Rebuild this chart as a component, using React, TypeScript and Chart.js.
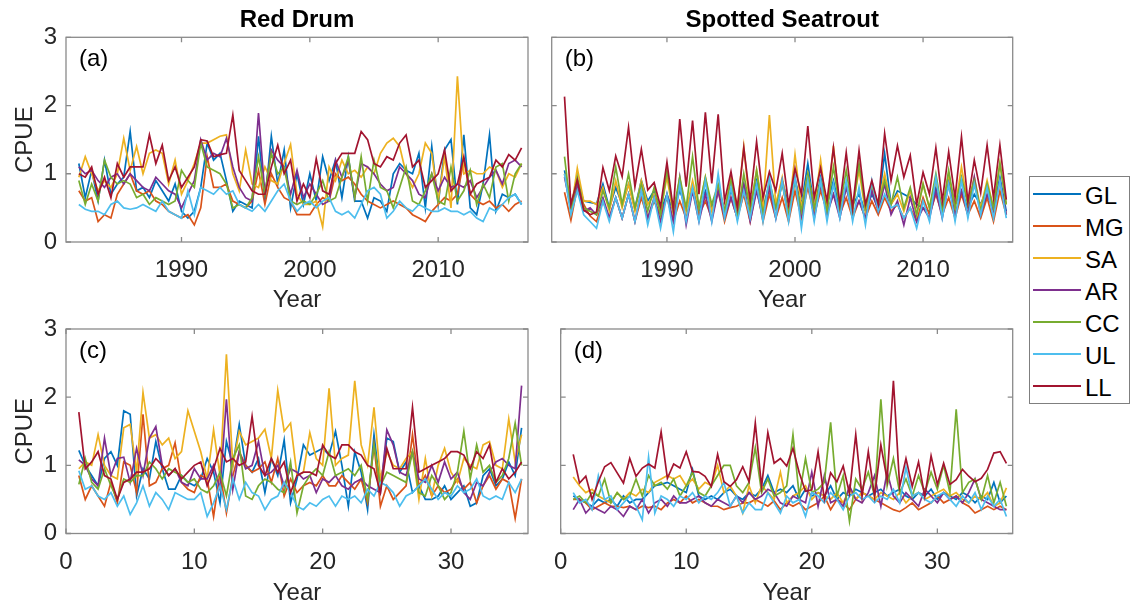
import React, { useEffect, useRef } from 'react';
import { Chart, registerables } from 'chart.js';

Chart.register(...registerables);

const FONT = '"Liberation Sans", Arial, Helvetica, sans-serif';
const TEXT = '#262626';
const AXIS = '#8a8a8a';

const seriesNames = ['GL', 'MG', 'SA', 'AR', 'CC', 'UL', 'LL'];
const seriesColors = ['#0072BD', '#D95319', '#EDB120', '#7E2F8E', '#77AC30', '#4DBEEE', '#A2142F'];

const yearTicks = [1990, 2000, 2010];
const runTicks = [0, 10, 20, 30];
const cpueTicks = [0, 1, 2, 3];

const halfYears = [
  1982, 1982.5, 1983, 1983.5, 1984, 1984.5, 1985, 1985.5, 1986, 1986.5,
  1987, 1987.5, 1988, 1988.5, 1989, 1989.5, 1990, 1990.5, 1991, 1991.5,
  1992, 1992.5, 1993, 1993.5, 1994, 1994.5, 1995, 1995.5, 1996, 1996.5,
  1997, 1997.5, 1998, 1998.5, 1999, 1999.5, 2000, 2000.5, 2001, 2001.5,
  2002, 2002.5, 2003, 2003.5, 2004, 2004.5, 2005, 2005.5, 2006, 2006.5,
  2007, 2007.5, 2008, 2008.5, 2009, 2009.5, 2010, 2010.5, 2011, 2011.5,
  2012, 2012.5, 2013, 2013.5, 2014, 2014.5, 2015, 2015.5, 2016, 2016.5,
];

const halfRuns = [
  1, 1.5, 2, 2.5, 3, 3.5, 4, 4.5, 5, 5.5,
  6, 6.5, 7, 7.5, 8, 8.5, 9, 9.5, 10, 10.5,
  11, 11.5, 12, 12.5, 13, 13.5, 14, 14.5, 15, 15.5,
  16, 16.5, 17, 17.5, 18, 18.5, 19, 19.5, 20, 20.5,
  21, 21.5, 22, 22.5, 23, 23.5, 24, 24.5, 25, 25.5,
  26, 26.5, 27, 27.5, 28, 28.5, 29, 29.5, 30, 30.5,
  31, 31.5, 32, 32.5, 33, 33.5, 34, 34.5, 35, 35.5,
];

// ---------- (a) Red Drum, by year ----------
const aGL = [
  1.15, 0.65, 1.05, 0.6, 1.2, 0.7, 0.85, 0.95, 1.62, 0.75,
  0.8, 0.65, 0.9, 0.75, 0.6, 0.85, 0.45, 0.35, 0.45, 0.8,
  1.45, 1.2, 1.3, 0.9, 0.45, 0.6, 0.55, 0.5, 1.55, 0.6,
  1.55, 0.85, 1.35, 0.5, 1.0, 0.55, 1.0, 0.6, 1.25, 0.9,
  1.2, 0.65, 1.25, 0.6, 0.6, 0.35, 0.65, 0.6, 0.45, 1.0,
  1.15, 1.05, 1.0, 1.3, 0.5, 1.4, 0.55, 1.35, 1.5, 0.55,
  1.57, 0.5, 0.4, 0.85, 1.57, 0.45, 0.7, 0.65, 0.7, 0.55,
];
const aMG = [
  0.75, 0.6, 0.65, 0.3, 0.4, 0.35, 0.7, 0.85, 1.0, 0.75,
  0.7, 0.75, 0.6, 0.55, 0.45, 0.4, 0.35, 0.4, 0.25, 0.5,
  1.25, 0.8, 0.8, 0.85, 0.6, 0.55, 0.5, 0.6, 1.05, 0.55,
  1.0, 0.8, 0.65, 0.6, 0.4, 0.4, 0.4, 0.55, 0.65, 0.6,
  1.0, 0.9, 0.95, 0.85, 0.7, 0.6, 0.55, 0.5, 0.55, 0.6,
  0.55, 0.5, 0.4, 0.35, 0.3, 0.45, 0.55, 0.65, 0.6, 0.7,
  1.2, 0.7, 0.6, 0.55, 0.6, 0.5, 0.55, 0.45, 0.55, 0.6,
];
const aSA = [
  0.95, 1.25, 1.0, 0.75, 0.9, 0.8, 1.0, 1.52, 1.05, 1.4,
  1.0, 1.3, 1.35, 1.3, 0.85, 1.2, 0.7, 0.9, 1.15, 1.45,
  1.45, 1.5, 1.55, 1.57, 1.0, 0.75, 1.35, 0.85, 0.8, 1.1,
  0.9, 0.85, 1.15, 1.43, 0.7, 0.55, 0.55, 0.6, 0.22, 1.1,
  0.9, 1.2, 1.0, 1.05, 0.95, 1.1, 1.0, 1.3, 1.45, 1.52,
  1.4, 1.0, 0.8, 1.0, 1.45, 1.3, 0.6, 1.25, 0.5, 2.43,
  1.0, 1.05, 1.0, 1.0, 1.1, 1.05, 0.8, 1.0, 0.95, 1.15,
];
const aAR = [
  1.1, 1.0, 1.05, 0.9, 0.8, 0.95, 1.0, 0.85, 1.0, 0.9,
  0.8, 0.75, 0.95, 0.85, 0.75, 0.7, 0.5, 0.7, 0.9, 1.5,
  1.2, 1.3, 1.25, 1.52, 1.1, 0.8, 0.65, 0.6, 1.89, 0.7,
  1.35, 1.2, 1.1, 0.7, 1.05, 0.65, 0.85, 0.7, 0.55, 0.6,
  1.2, 0.95, 1.2, 0.65, 1.15, 1.1, 1.0, 0.85, 0.75, 0.8,
  1.1, 1.0, 0.9, 0.7, 0.65, 1.0, 0.75, 0.95, 0.8, 0.85,
  0.8, 0.9, 0.65, 0.8, 0.95, 1.05, 0.85, 1.15, 1.2, 1.1,
];
const aCC = [
  0.9, 0.55, 0.85, 0.6, 1.2, 0.95, 0.85, 0.9, 0.85, 0.65,
  0.7, 0.55, 0.65, 0.6, 0.55, 0.6, 1.05, 0.9, 0.8, 1.45,
  1.1, 1.05, 1.0, 0.85, 0.5, 0.55, 0.5, 0.65, 1.25, 0.7,
  1.3, 1.0, 1.1, 0.6, 0.55, 0.6, 0.55, 0.7, 0.9, 0.6,
  0.65, 0.95, 1.25, 0.65, 1.25, 0.6, 1.2, 0.8, 0.75, 0.5,
  0.8, 1.1, 0.6, 0.55, 0.75, 1.0, 0.6, 0.55, 1.1, 0.6,
  0.75, 1.05, 0.55, 0.85, 0.65, 1.1, 1.15, 0.6, 1.0, 1.15,
];
const aUL = [
  0.55, 0.48, 0.45, 0.45, 0.4, 0.55, 0.6, 0.5, 0.48, 0.5,
  0.55, 0.5, 0.45, 0.6, 0.45, 0.4, 0.35, 0.75, 0.4, 0.8,
  0.75, 0.7, 0.8, 0.7, 0.75, 0.55, 0.5, 0.45, 0.55, 0.45,
  0.6, 0.75, 0.85, 0.6, 0.45, 0.55, 0.6, 0.5, 0.6, 0.65,
  0.45, 0.4, 0.45, 0.35, 0.55, 0.75, 0.8, 0.7, 0.35, 0.45,
  0.6, 0.5, 0.45, 0.55, 0.5, 0.45, 0.45, 0.5, 0.45, 0.45,
  0.4, 0.45, 0.35, 0.3, 0.5, 0.45, 0.55, 0.65, 0.7, 0.55,
];
const aLL = [
  1.0, 0.95, 1.1, 0.7, 0.95, 0.65, 1.15, 0.95, 1.1, 1.1,
  1.1, 1.57, 1.15, 1.42, 0.9, 1.1, 0.8, 0.95, 1.1, 1.5,
  1.48, 1.25, 1.28, 1.3, 1.86, 1.05, 0.9, 0.75, 0.7, 0.7,
  1.1, 1.42, 1.0, 1.2, 0.6, 0.85, 0.65, 1.22, 0.75, 0.7,
  1.15, 1.3, 1.3, 1.3, 1.62, 1.5, 1.15, 1.1, 1.25, 1.2,
  1.45, 1.57, 1.1, 1.2, 0.8, 0.9, 1.0, 1.35, 0.75, 0.85,
  1.25, 0.7, 0.85, 0.9, 0.95, 1.2, 1.1, 1.28, 1.2, 1.38,
];

// ---------- (b) Spotted Seatrout, by year ----------
const bGL = [
  1.05, 0.55, 0.9, 0.6, 0.58, 0.56, 0.85, 0.5, 0.8, 0.55,
  0.85, 0.5, 0.9, 0.6, 0.75, 0.45, 0.7, 0.45, 0.75, 0.5,
  0.8, 0.45, 0.75, 0.5, 0.8, 0.45, 0.75, 0.5, 0.85, 0.55,
  0.9, 0.5, 0.85, 0.5, 0.9, 0.55, 0.9, 0.55, 1.15, 0.5,
  0.95, 0.55, 0.9, 0.45, 0.8, 0.55, 0.7, 0.45, 0.7, 0.5,
  1.3, 0.55, 0.75, 0.7, 0.65, 0.55, 0.5, 0.45, 0.8, 0.5,
  0.9, 0.55, 0.75, 0.5, 0.7, 0.55, 0.8, 0.5, 0.95, 0.45,
];
const bMG = [
  0.73, 0.32, 0.8, 0.55, 0.38, 0.3, 0.6, 0.35, 0.65, 0.35,
  0.7, 0.3, 0.65, 0.35, 0.6, 0.4, 0.65, 0.3, 0.6, 0.35,
  0.75, 0.4, 0.6, 0.35, 0.75, 0.3, 0.65, 0.35, 0.7, 0.3,
  0.8, 0.3, 0.7, 0.35, 0.65, 0.3, 0.75, 0.35, 0.8, 0.4,
  0.75, 0.45, 0.7, 0.4, 0.65, 0.35, 0.6, 0.35, 0.6, 0.4,
  0.65, 0.45, 0.55, 0.35, 0.5, 0.3, 0.65, 0.4, 0.7, 0.4,
  0.65, 0.35, 0.7, 0.4, 0.6, 0.35, 0.65, 0.3, 0.75, 0.4,
];
const bSA = [
  1.0, 0.45, 1.08, 0.6, 0.6, 0.55, 0.8, 0.45, 0.9, 0.5,
  0.85, 0.45, 0.9, 0.55, 0.7, 0.45, 0.95, 0.4, 0.85, 0.45,
  0.9, 0.5, 0.95, 0.45, 0.8, 0.45, 0.95, 0.5, 1.4, 0.45,
  1.05, 0.5, 1.86, 0.55, 0.95, 0.4, 1.28, 0.5, 1.0, 0.5,
  1.2, 0.45, 1.41, 0.5, 0.85, 0.5, 1.05, 0.45, 0.8, 0.55,
  1.0, 0.55, 0.7, 0.45, 0.75, 0.4, 0.85, 0.5, 0.9, 0.45,
  1.0, 0.5, 1.1, 0.55, 0.95, 0.5, 0.9, 0.5, 1.15, 0.55,
];
const bAR = [
  0.95, 0.5, 0.85, 0.45, 0.5, 0.4, 0.65, 0.35, 0.65, 0.35,
  0.7, 0.3, 0.75, 0.35, 0.65, 0.3, 0.7, 0.3, 0.95, 0.25,
  0.75, 0.3, 0.7, 0.3, 0.75, 0.35, 0.65, 0.35, 0.85, 0.3,
  0.75, 0.35, 0.8, 0.35, 0.9, 0.35, 0.95, 0.4, 0.95, 0.35,
  0.85, 0.4, 0.7, 0.35, 0.8, 0.4, 0.6, 0.35, 0.75, 0.45,
  0.85, 0.4, 0.6, 0.25, 0.65, 0.3, 0.5, 0.35, 0.75, 0.35,
  0.85, 0.4, 0.75, 0.4, 0.95, 0.4, 0.7, 0.45, 0.9, 0.4,
];
const bCC = [
  1.25, 0.45, 0.95, 0.5, 0.45, 0.4, 0.75, 0.5, 1.1, 0.55,
  1.0, 0.5, 0.85, 0.45, 0.8, 0.4, 1.05, 0.45, 0.95, 0.5,
  1.25, 0.5, 0.95, 0.55, 0.85, 0.45, 0.9, 0.35, 1.0, 0.45,
  1.05, 0.4, 0.9, 0.5, 0.85, 0.4, 0.9, 0.45, 1.0, 0.5,
  0.9, 0.45, 1.1, 0.5, 1.05, 0.45, 1.15, 0.5, 0.85, 0.55,
  0.9, 0.55, 0.95, 0.5, 0.8, 0.4, 0.85, 0.5, 1.0, 0.45,
  1.05, 0.5, 0.95, 0.55, 0.9, 0.45, 0.85, 0.5, 1.15, 0.55,
];
const bUL = [
  1.0, 0.4, 0.75, 0.4, 0.3, 0.2, 0.6, 0.3, 0.65, 0.35,
  0.7, 0.3, 0.75, 0.25, 0.65, 0.2, 0.7, 0.15, 0.85, 0.3,
  0.8, 0.3, 0.9, 0.3, 1.0, 0.35, 0.8, 0.3, 0.75, 0.35,
  0.85, 0.3, 0.95, 0.35, 0.9, 0.3, 0.95, 0.2, 0.9, 0.3,
  0.9, 0.3, 0.85, 0.35, 0.9, 0.3, 0.8, 0.25, 0.9, 0.45,
  0.7, 0.5, 0.55, 0.35, 0.5, 0.2, 0.6, 0.3, 0.95, 0.35,
  0.85, 0.3, 0.9, 0.35, 0.85, 0.4, 0.8, 0.35, 0.9, 0.35,
];
const bLL = [
  2.13, 0.55, 0.91, 0.47, 0.4, 0.44, 1.09, 0.75, 1.26, 0.96,
  1.68, 0.81, 1.36, 0.76, 0.87, 0.52, 1.17, 0.47, 1.8, 0.81,
  1.78, 0.7, 1.9, 0.86, 1.87, 0.6, 1.03, 0.5, 1.38, 0.6,
  1.47, 0.65, 1.03, 0.75, 1.3, 0.55, 1.08, 0.7, 1.7, 0.65,
  1.08, 0.6, 1.38, 0.55, 1.31, 0.5, 1.34, 0.55, 0.9, 0.55,
  1.59, 0.9, 1.41, 0.95, 1.27, 0.55, 1.02, 0.7, 1.38, 0.6,
  1.32, 0.65, 1.54, 0.59, 1.2, 0.72, 1.42, 0.65, 1.42, 0.62,
];

// ---------- (c) Red Drum, by run year ----------
const cGL = [
  1.22, 1.0, 0.85, 0.7, 1.1, 1.2, 1.0, 1.8, 1.75, 0.55,
  0.95, 0.8, 1.35, 0.95, 0.65, 0.65, 0.85, 0.75, 0.7, 0.8,
  1.1, 0.9, 0.45, 1.35, 1.0, 1.6, 1.0, 0.9, 1.1, 0.6,
  1.1, 0.85, 1.37, 0.45, 0.8, 1.3, 1.15, 1.2, 1.25, 1.15,
  1.5, 1.0, 0.4, 1.2, 0.9, 0.35, 1.45, 0.65, 1.4, 1.35,
  0.9, 1.05, 0.6, 0.7, 0.5, 0.5, 0.55, 0.7, 0.5, 0.6,
  0.7, 0.4, 0.45, 0.85, 0.95, 0.7, 0.8, 1.05, 0.85, 1.55,
];
const cMG = [
  0.85, 0.5, 0.7, 0.55, 0.4, 0.75, 0.45, 1.05, 1.0, 0.6,
  1.75, 0.7, 0.75, 0.95, 1.0, 1.33, 0.75, 0.65, 0.6, 0.85,
  0.8, 0.25, 0.9, 0.3, 0.85, 1.2, 1.0, 0.9, 0.95, 1.05,
  0.75, 1.1, 0.55, 0.8, 0.6, 0.7, 0.75, 0.7, 0.85, 0.7,
  0.7, 0.85, 0.75, 0.65, 0.8, 0.45, 1.3, 0.4, 0.7, 0.5,
  0.6, 0.7, 1.45, 0.7, 0.85, 0.55, 0.7, 0.6, 0.65, 0.8,
  0.65, 0.75, 0.45, 0.7, 0.85, 0.65, 0.8, 0.75, 0.22, 0.8,
];
const cSA = [
  0.95, 1.05, 1.0, 1.45, 1.0, 0.85, 0.8, 1.55, 1.6, 0.9,
  2.07, 1.4, 1.45, 1.3, 1.4, 1.1, 1.2, 1.8, 1.5, 1.2,
  0.8, 1.52, 0.85, 2.63, 1.0, 1.5, 1.3, 1.35, 1.4, 1.53,
  1.1, 2.1, 1.5, 1.62, 0.85, 0.9, 1.48, 1.1, 1.0, 2.13,
  1.0, 1.1, 1.15, 2.24, 1.3, 1.0, 1.85, 0.8, 1.2, 1.0,
  0.95, 1.1, 1.2, 0.5, 1.1, 0.55, 1.0, 1.25, 0.9, 0.75,
  1.1, 1.0, 0.95, 1.3, 1.35, 1.0, 0.95, 1.68, 1.05, 1.45,
];
const cAR = [
  1.08, 1.0, 0.8, 0.7, 1.4, 0.85, 1.1, 1.12, 0.75, 1.25,
  0.85, 1.4, 1.57, 1.0, 0.85, 0.95, 0.75, 0.7, 0.95, 0.8,
  0.8, 1.0, 0.65, 1.97, 0.65, 1.2, 0.95, 1.0, 1.35, 0.85,
  0.9, 1.0, 0.7, 0.95, 0.9, 0.8, 0.85, 0.6, 0.8, 0.75,
  0.85, 0.7, 0.65, 0.75, 0.8, 0.7, 0.65, 0.6, 1.52, 1.3,
  0.9, 0.85, 1.2, 0.8, 0.75, 1.0, 0.75, 1.05, 0.8, 0.9,
  0.6, 0.5, 0.75, 0.7, 0.9, 1.05, 1.1, 1.0, 0.95, 2.17,
];
const cCC = [
  0.72, 1.1, 0.75, 0.65, 0.95, 0.7, 0.5, 0.8, 0.75, 0.85,
  0.85, 1.05, 0.95, 0.8, 0.95, 0.9, 0.85, 0.75, 0.8, 0.65,
  0.6, 0.7, 0.9, 0.55, 1.1, 1.3, 0.55, 0.5, 0.7, 0.8,
  0.75, 0.65, 0.6, 1.05, 0.3, 0.7, 0.85, 0.95, 0.85, 1.2,
  0.85, 0.9, 0.95, 0.85, 1.0, 0.5, 1.3, 0.7, 0.9, 0.85,
  0.8, 0.75, 1.2, 0.6, 0.55, 0.85, 0.7, 0.5, 0.6, 0.9,
  1.5, 0.8, 1.3, 0.9, 1.0, 0.75, 0.85, 1.1, 1.62, 1.0,
];
const cUL = [
  0.92, 0.65, 0.7, 0.55, 0.5, 0.6, 0.4, 0.55, 0.28, 0.45,
  0.7, 0.4, 0.6, 0.5, 0.35, 0.6, 0.55, 0.5, 0.5, 0.6,
  0.25, 0.45, 0.7, 0.35, 0.8, 0.5, 0.75, 0.6, 0.55, 0.35,
  0.5, 0.55, 0.75, 0.6, 0.4, 0.35, 0.45, 0.4, 0.5, 0.55,
  0.4, 0.55, 0.5, 0.55, 0.45, 0.65, 0.55, 0.75, 0.7, 0.6,
  0.4, 0.55, 0.6, 0.7, 0.8, 0.65, 0.5, 0.6, 0.55, 0.7,
  0.6, 0.65, 0.8, 0.55, 0.5, 0.55, 0.5, 0.75, 0.6, 0.8,
];
const cLL = [
  1.78, 0.95, 1.05, 1.2, 0.85, 0.8, 0.5, 0.75, 0.8, 0.9,
  0.9, 0.95, 1.1, 1.0, 0.85, 0.95, 0.8, 0.9, 1.0, 1.05,
  0.7, 0.95, 1.25, 1.05, 1.1, 1.0, 1.05, 1.72, 1.0, 0.85,
  1.1, 0.9, 1.05, 0.6, 0.85, 0.9, 0.9, 0.85, 1.3, 1.15,
  1.1, 1.3, 1.3, 1.2, 1.15, 1.0, 0.95, 0.6, 1.25, 0.95,
  0.95, 0.95, 1.85, 0.9, 0.95, 1.0, 1.05, 1.1, 1.2, 1.2,
  1.15, 0.95, 1.2, 1.1, 1.3, 0.75, 0.95, 0.8, 0.9, 1.05,
];

// ---------- (d) Spotted Seatrout, by run year ----------
const dGL = [
  0.55, 0.5, 0.45, 0.4, 0.5, 0.45, 0.5, 0.4, 0.55, 0.45,
  0.5, 0.5, 0.6, 0.7, 0.72, 0.75, 0.7, 0.65, 0.6, 0.94,
  0.55, 0.5, 0.55, 0.5, 0.6, 0.65, 0.55, 0.5, 0.6, 0.55,
  0.65, 0.85, 0.6, 0.65, 0.6, 0.7, 0.5, 0.65, 0.55, 0.6,
  0.55, 0.7, 0.5, 0.6, 0.55, 0.65, 0.6, 0.55, 0.6, 0.65,
  0.55, 0.6, 0.65, 0.55, 0.5, 0.6, 0.55, 0.65, 0.5, 0.6,
  0.55, 0.5, 0.6, 0.55, 0.45, 0.55, 0.5, 0.75, 0.45, 0.55,
];
const dMG = [
  0.5, 0.5, 0.45, 0.35, 0.4, 0.45, 0.4, 0.4, 0.38, 0.4,
  0.35, 0.4, 0.38, 0.4, 0.35, 0.45, 0.5, 0.45, 0.55, 0.45,
  0.5, 0.45, 0.4, 0.4, 0.35, 0.38, 0.4, 0.45, 0.45, 0.5,
  0.45, 0.4, 0.48, 0.35, 0.45, 0.4, 0.45, 0.35, 0.4, 0.45,
  0.55, 0.35, 0.5, 0.45, 0.35, 0.5, 0.6, 0.55, 0.5, 0.45,
  0.4, 0.35, 0.32, 0.38, 0.45, 0.35, 0.4, 0.45, 0.55, 0.45,
  0.5, 0.55, 0.45, 0.4, 0.3, 0.35, 0.4, 0.35, 0.4, 0.35,
];
const dSA = [
  0.83, 0.7, 0.6, 0.65, 0.55, 0.5, 0.45, 0.6, 0.5, 0.6,
  0.55, 0.65, 0.6, 0.75, 0.8, 0.85, 0.8, 0.85, 0.7, 0.8,
  0.65, 0.75, 0.7, 1.0, 0.6, 0.7, 0.55, 0.3, 0.7, 0.45,
  0.7, 0.6, 0.5, 0.9, 0.45, 0.55, 0.6, 0.7, 0.5, 0.6,
  0.55, 0.5, 0.6, 0.45, 0.65, 0.5, 0.6, 0.55, 0.5, 0.6,
  0.55, 0.5, 0.6, 0.45, 0.55, 0.6, 0.5, 0.55, 0.6, 0.65,
  0.55, 0.6, 0.5, 0.45, 0.55, 0.5, 0.6, 0.4, 0.45, 0.67,
];
const dAR = [
  0.35, 0.5, 0.3, 0.4, 0.35, 0.3, 0.4, 0.35, 0.25, 0.4,
  0.35, 0.5, 0.3, 0.45, 0.5, 0.4, 0.55, 0.45, 0.45, 0.5,
  0.55, 0.45, 0.4, 0.5, 0.45, 0.4, 0.55, 0.45, 0.6, 0.5,
  0.55, 0.65, 0.6, 0.45, 0.4, 0.55, 0.5, 0.45, 0.9, 0.4,
  0.85, 0.45, 0.5, 0.4, 0.7, 0.5, 0.45, 0.6, 0.85, 0.4,
  0.9, 0.55, 0.45, 0.6, 0.5, 0.4, 0.65, 0.55, 0.45, 0.6,
  0.5, 0.55, 0.45, 0.6, 0.8, 0.5, 0.45, 0.4, 0.35, 0.35,
];
const dCC = [
  0.5, 0.55, 0.45, 0.6, 0.55, 0.8, 0.45, 0.6, 0.5, 0.55,
  0.8, 0.55, 0.85, 0.7, 0.75, 0.65, 0.8, 0.55, 0.7, 0.9,
  0.6, 0.55, 0.7, 0.85, 1.0, 1.0, 0.7, 0.6, 0.75, 1.26,
  0.6, 0.8, 0.55, 0.6, 0.7, 1.45, 0.55, 1.1, 0.6, 0.65,
  0.75, 1.63, 0.55, 0.85, 0.18, 0.8, 0.65, 0.9, 0.55, 1.97,
  0.7, 1.1, 0.6, 0.8, 0.55, 0.85, 0.6, 0.9, 0.65, 1.0,
  0.6, 1.82, 0.6, 0.75, 0.8, 0.5, 0.85, 0.45, 0.75, 0.4,
];
const dUL = [
  0.6, 0.45, 0.5, 0.35, 0.85, 0.5, 0.55, 0.35, 0.45, 0.55,
  0.4, 0.2, 1.12, 0.3, 0.55, 0.5, 0.4, 0.55, 0.5, 0.6,
  0.45, 0.55, 0.5, 0.6, 0.75, 0.4, 0.55, 0.3, 0.45, 0.35,
  0.35, 0.6, 0.45, 0.3, 0.55, 0.45, 0.5, 0.25, 0.6, 0.55,
  0.45, 0.6, 0.5, 0.35, 0.55, 0.6, 0.5, 0.55, 0.45, 0.55,
  0.5, 0.65, 0.45, 0.97, 0.55, 0.6, 0.5, 0.45, 0.55, 0.6,
  0.5, 0.4, 0.55, 0.45, 0.6, 0.35, 0.55, 0.4, 0.5, 0.25,
];
const dLL = [
  1.16, 0.74, 0.84, 0.5, 0.76, 0.98, 1.04, 0.89, 0.74, 1.1,
  0.84, 0.96, 1.02, 0.96, 1.49, 0.81, 1.02, 0.96, 1.2, 0.91,
  0.9, 0.84, 0.69, 1.16, 0.76, 0.69, 0.79, 0.98, 0.76, 1.62,
  0.69, 1.48, 1.03, 1.1, 0.99, 1.25, 0.89, 0.62, 0.64, 1.2,
  0.5, 0.89, 0.76, 0.99, 0.59, 1.45, 0.54, 1.2, 0.54, 1.3,
  0.79, 2.24, 0.69, 1.1, 0.69, 1.05, 0.54, 1.14, 0.72, 1.03,
  0.72, 0.79, 0.94, 0.84, 0.76, 0.81, 0.94, 1.18, 1.2, 1.03,
];

type PanelSpec = {
  label: string;
  title?: string;
  xs: number[];
  xMin: number;
  xMax: number;
  xTicks: number[];
  values: number[][];
  left: number;
  top: number;
  w: number;
  h: number;
  padTop: number;
  padRight: number;
  yAxisW: number;
  xAxisH: number;
  showY: boolean;
  yearPadB: number;
};

const panels: PanelSpec[] = [
  {
    label: '(a)', title: 'Red Drum', xs: halfYears, xMin: 1981, xMax: 2017, xTicks: yearTicks,
    values: [aGL, aMG, aSA, aAR, aCC, aUL, aLL],
    left: 0, top: 0, w: 540, h: 315, padTop: 0, padRight: 12, yAxisW: 66, xAxisH: 73, showY: true, yearPadB: 0,
  },
  {
    label: '(b)', title: 'Spotted Seatrout', xs: halfYears, xMin: 1981, xMax: 2017, xTicks: yearTicks,
    values: [bGL, bMG, bSA, bAR, bCC, bUL, bLL],
    left: 540, top: 0, w: 485, h: 315, padTop: 0, padRight: 12.3, yAxisW: 11.7, xAxisH: 73, showY: false, yearPadB: 0,
  },
  {
    label: '(c)', xs: halfRuns, xMin: 0, xMax: 36, xTicks: runTicks,
    values: [cGL, cMG, cSA, cAR, cCC, cUL, cLL],
    left: 0, top: 300, w: 540, h: 306, padTop: 29, padRight: 12, yAxisW: 66, xAxisH: 72.5, showY: true, yearPadB: -1.5,
  },
  {
    label: '(d)', xs: halfRuns, xMin: 0, xMax: 36, xTicks: runTicks,
    values: [dGL, dMG, dSA, dAR, dCC, dUL, dLL],
    left: 540, top: 300, w: 485, h: 306, padTop: 29, padRight: 12.3, yAxisW: 11.7, xAxisH: 72.5, showY: false, yearPadB: -1.5,
  },
];

const panelBox = {
  id: 'panelBox',
  afterDatasetsDraw(chart: any, _args: any, opts: any) {
    const { ctx, chartArea } = chart;
    const { left, right, top, bottom } = chartArea;
    const xs = chart.scales.x;
    const ys = chart.scales.y;
    ctx.save();
    ctx.strokeStyle = AXIS;
    ctx.lineWidth = 1.3;
    ctx.strokeRect(left, top, right - left, bottom - top);
    ctx.beginPath();
    xs.ticks.forEach((t: any) => {
      const px = xs.getPixelForValue(t.value);
      ctx.moveTo(px, bottom);
      ctx.lineTo(px, bottom - 5);
      ctx.moveTo(px, top);
      ctx.lineTo(px, top + 5);
    });
    ys.ticks.forEach((t: any) => {
      const py = ys.getPixelForValue(t.value);
      ctx.moveTo(left, py);
      ctx.lineTo(left + 5, py);
      ctx.moveTo(right, py);
      ctx.lineTo(right - 5, py);
    });
    ctx.stroke();
    ctx.fillStyle = '#000';
    ctx.font = `24px ${FONT}`;
    ctx.textBaseline = 'middle';
    ctx.textAlign = 'left';
    ctx.fillText(opts.label, left + 13, top + 22);
    ctx.restore();
  },
};

function makeConfig(spec: PanelSpec): any {
  const tickFont = { family: FONT, size: 24 };
  return {
    type: 'line',
    data: {
      datasets: seriesNames.map((name, k) => ({
        label: name,
        data: spec.xs.map((x, i) => ({ x, y: spec.values[k][i] })),
        borderColor: seriesColors[k],
        backgroundColor: seriesColors[k],
        borderWidth: 1.7,
        pointRadius: 0,
        tension: 0,
        fill: false,
        order: seriesNames.length - 1 - k,
      })),
    },
    options: {
      responsive: false,
      animation: false,
      events: [],
      layout: { padding: { top: spec.padTop, right: spec.padRight, left: 0, bottom: 0 } },
      plugins: {
        legend: { display: false },
        tooltip: { enabled: false },
        title: spec.title
          ? {
              display: true,
              text: spec.title,
              fullSize: false,
              color: '#000',
              font: { family: FONT, size: 24, weight: 'bold' },
              padding: { top: 6, bottom: 2.5 },
            }
          : { display: false },
        panelBox: { label: spec.label },
      },
      scales: {
        x: {
          type: 'linear',
          min: spec.xMin,
          max: spec.xMax,
          afterBuildTicks: (s: any) => {
            s.ticks = spec.xTicks.map((v) => ({ value: v }));
          },
          afterFit: (s: any) => {
            s.height = spec.xAxisH;
          },
          grid: { display: false, drawTicks: false },
          border: { display: false },
          ticks: {
            font: tickFont,
            color: TEXT,
            padding: 14,
            maxRotation: 0,
            autoSkip: false,
            callback: (v: any) => String(v),
          },
          title: {
            display: true,
            text: 'Year',
            font: tickFont,
            color: TEXT,
            padding: { top: 0, bottom: spec.yearPadB },
          },
        },
        y: {
          type: 'linear',
          min: 0,
          max: 3,
          afterBuildTicks: (s: any) => {
            s.ticks = cpueTicks.map((v) => ({ value: v }));
          },
          afterFit: (s: any) => {
            s.width = spec.yAxisW;
          },
          grid: { display: false, drawTicks: false },
          border: { display: false },
          ticks: {
            display: spec.showY,
            font: tickFont,
            color: TEXT,
            padding: 9,
            callback: (v: any) => String(v),
          },
          title: {
            display: spec.showY,
            text: 'CPUE',
            font: tickFont,
            color: TEXT,
            padding: { top: 11, bottom: 0 },
          },
        },
      },
    },
    plugins: [panelBox],
  };
}

function Panel({ spec }: { spec: PanelSpec }) {
  const ref = useRef<HTMLCanvasElement | null>(null);
  useEffect(() => {
    const chart = new Chart(ref.current as HTMLCanvasElement, makeConfig(spec));
    return () => chart.destroy();
  }, [spec]);
  return (
    <canvas
      ref={ref}
      width={spec.w}
      height={spec.h}
      style={{ position: 'absolute', left: spec.left, top: spec.top, width: spec.w, height: spec.h }}
    />
  );
}

function Legend() {
  return (
    <div
      style={{
        position: 'absolute',
        left: 1029,
        top: 176,
        width: 101,
        height: 228,
        boxSizing: 'border-box',
        border: '1px solid #7f7f7f',
        background: '#fff',
      }}
    >
      {seriesNames.map((name, k) => (
        <div
          key={name}
          style={{
            position: 'absolute',
            left: 3,
            top: 17 + 32 * k - 14,
            height: 28,
            display: 'flex',
            alignItems: 'center',
          }}
        >
          <span style={{ display: 'inline-block', width: 48, height: 2, background: seriesColors[k] }} />
          <span
            style={{
              marginLeft: 4,
              fontFamily: FONT,
              fontSize: 24,
              lineHeight: '28px',
              color: '#000',
              position: 'relative',
              top: 2,
            }}
          >
            {name}
          </span>
        </div>
      ))}
    </div>
  );
}

export default function App() {
  return (
    <div
      style={{
        position: 'absolute',
        left: 0,
        top: 0,
        width: 1140,
        height: 606,
        overflow: 'hidden',
        background: '#fff',
      }}
    >
      {panels.map((p) => (
        <Panel key={p.label} spec={p} />
      ))}
      <Legend />
    </div>
  );
}
